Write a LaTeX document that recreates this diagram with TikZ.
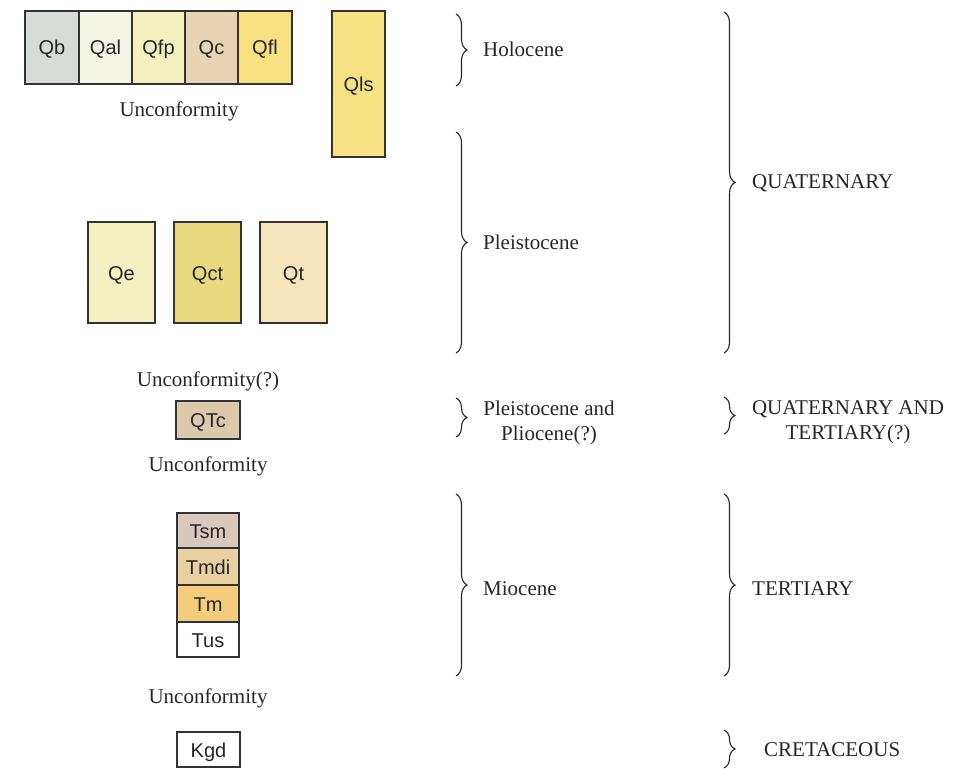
\documentclass[tikz,border=0pt]{standalone}
\usepackage{fontspec}
\setmainfont{Liberation Serif}
\newfontfamily\boxfont{Liberation Sans}
\usetikzlibrary{decorations.pathreplacing}
\definecolor{cQb}{HTML}{D8DCD8}
\definecolor{cQal}{HTML}{F4F4E2}
\definecolor{cQfp}{HTML}{F4F0C0}
\definecolor{cQc}{HTML}{E8D4B2}
\definecolor{cQfl}{HTML}{F8E082}
\definecolor{cQls}{HTML}{F6E282}
\definecolor{cQe}{HTML}{F4F0C2}
\definecolor{cQct}{HTML}{E8D880}
\definecolor{cQt}{HTML}{F6E4BC}
\definecolor{cQTc}{HTML}{DCC8AA}
\definecolor{cTsm}{HTML}{D8C8BE}
\definecolor{cTmdi}{HTML}{E8D0A0}
\definecolor{cTm}{HTML}{F4CC7C}
\definecolor{edge}{HTML}{333333}
\begin{document}
\begin{tikzpicture}[x=1pt,y=-1pt,
  unit/.style={draw=edge,line width=1.1pt,inner sep=0pt,text height=15pt,text depth=0pt,font=\boxfont\fontsize{20}{22}\selectfont,text=black!85},
  lbl/.style={inner sep=0pt,yshift=-2pt,font=\fontsize{21}{25}\selectfont,text=black!85},
  brc/.style={draw=black!85,line width=1.1pt,decorate,decoration={brace,amplitude=11pt}}]
\useasboundingbox (0,0) rectangle (960,768);
% top row
\node[unit,fill=cQb,minimum width=54pt,minimum height=73pt] (qb) at (52,47.5) {Qb};
\node[unit,fill=cQal,minimum width=53pt,minimum height=73pt] (qal) at (105.5,47.5) {Qal};
\node[unit,fill=cQfp,minimum width=53pt,minimum height=73pt] (qfp) at (158.5,47.5) {Qfp};
\node[unit,fill=cQc,minimum width=53pt,minimum height=73pt] (qc) at (211.5,47.5) {Qc};
\node[unit,fill=cQfl,minimum width=54pt,minimum height=73pt] (qfl) at (265,47.5) {Qfl};
\node[unit,fill=cQls,minimum width=53pt,minimum height=146pt] (qls) at (358.5,84) {Qls};
\node[lbl] (u1) at (179,109) {Unconformity};
% pleistocene
\node[unit,fill=cQe,minimum width=67pt,minimum height=101pt] (qe) at (121.5,272.5) {Qe};
\node[unit,fill=cQct,minimum width=67pt,minimum height=101pt] (qct) at (207.5,272.5) {Qct};
\node[unit,fill=cQt,minimum width=67pt,minimum height=101pt] (qt) at (293.5,272.5) {Qt};
\node[lbl] (u2) at (208,379) {Unconformity(?)};
\node[unit,fill=cQTc,minimum width=64pt,minimum height=38pt] (qtc) at (208,420) {QTc};
\node[lbl] (u3) at (208,464) {Unconformity};
% miocene stack
\node[unit,fill=cTsm,minimum width=62pt,minimum height=35pt] (tsm) at (208,530.5) {Tsm};
\node[unit,fill=cTmdi,minimum width=62pt,minimum height=37pt] (tmdi) at (208,566.5) {Tmdi};
\node[unit,fill=cTm,minimum width=62pt,minimum height=37pt] (tm) at (208,603.5) {Tm};
\node[unit,fill=white,minimum width=62pt,minimum height=35pt] (tus) at (208,639.5) {Tus};
\node[lbl] (u4) at (208,696) {Unconformity};
\node[unit,fill=white,minimum width=63pt,minimum height=35pt] (kgd) at (208.5,749.5) {Kgd};
% epoch braces
\coordinate (h1) at (456,14); \coordinate (h2) at (456,86);
\coordinate (p1) at (456,132); \coordinate (p2) at (456,353);
\coordinate (pp1) at (456,398); \coordinate (pp2) at (456,437);
\coordinate (m1) at (456,494); \coordinate (m2) at (456,676);
\draw[brc] (h1) -- (h2);
\draw[brc] (p1) -- (p2);
\draw[brc] (pp1) -- (pp2);
\draw[brc] (m1) -- (m2);
\node[lbl,anchor=west] (hol) at (483,47) {Holocene};
\node[lbl,anchor=west] (ple) at (483,240) {Pleistocene};
\node[lbl,align=center] (plp) at (549,420.5) {Pleistocene and\\Pliocene(?)};
\node[lbl,anchor=west] (mio) at (483,587) {Miocene};
% period braces
\coordinate (q1) at (724,12); \coordinate (q2) at (724,353);
\coordinate (qt1) at (724,397); \coordinate (qt2) at (724,434);
\coordinate (t1) at (724,494); \coordinate (t2) at (724,676);
\coordinate (k1) at (724,730); \coordinate (k2) at (724,768);
\draw[brc] (q1) -- (q2);
\draw[brc] (qt1) -- (qt2);
\draw[brc] (t1) -- (t2);
\draw[brc] (k1) -- (k2);
\node[lbl,anchor=west] (qua) at (752,181) {QUATERNARY};
\node[lbl,align=center] (qat) at (848,420.5) {QUATERNARY AND\\TERTIARY(?)};
\node[lbl,anchor=west] (ter) at (752,587) {TERTIARY};
\node[lbl,anchor=west] (cre) at (764,748) {CRETACEOUS};
\end{tikzpicture}
\end{document}
